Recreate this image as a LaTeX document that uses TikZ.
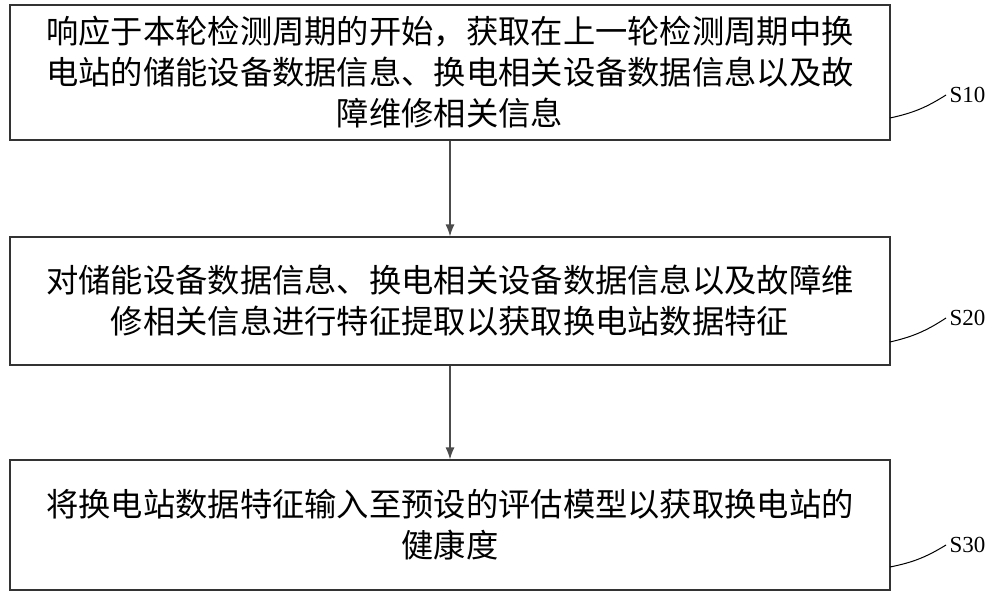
\documentclass[tikz,border=0pt]{standalone}
\usepackage{fontspec}
\usetikzlibrary{arrows.meta}
\newfontfamily\cjk{Noto Sans CJK SC}
\setmainfont{Liberation Serif}
\begin{document}
\begin{tikzpicture}[x=1pt,y=-1pt,
  stepbox/.style={draw=black!80,line width=1.2pt,minimum width=880pt,text width=870pt,align=center,font=\cjk\fontsize{32.3}{41}\selectfont},
  lbl/.style={font=\fontsize{23}{26}\selectfont,anchor=west},
  arr/.style={draw=black!70,line width=1.2pt,-{Latex[length=12pt,width=9pt]}}]
\useasboundingbox (0,0) rectangle (1000,603);
\node[stepbox,minimum height=135pt] (b1) at (450,72.5) {响应于本轮检测周期的开始，获取在上一轮检测周期中换\\电站的储能设备数据信息、换电相关设备数据信息以及故\\障维修相关信息};
\node[stepbox,minimum height=128pt] (b2) at (450,301) {对储能设备数据信息、换电相关设备数据信息以及故障维\\修相关信息进行特征提取以获取换电站数据特征};
\node[stepbox,minimum height=130pt] (b3) at (450,525) {将换电站数据特征输入至预设的评估模型以获取换电站的\\健康度};
\draw[arr] (b1.south) -- (b2.north);
\draw[arr] (b2.south) -- (b3.north);
\node[lbl] (s1) at (946,95) {S10};
\node[lbl] (s2) at (946,318) {S20};
\node[lbl] (s3) at (946,545) {S30};
\coordinate (c1) at (890,118);
\coordinate (c2) at (890,342);
\coordinate (c3) at (890,567);
\draw[line width=1pt] (c1) to[bend right=10] (s1.west);
\draw[line width=1pt] (c2) to[bend right=10] (s2.west);
\draw[line width=1pt] (c3) to[bend right=10] (s3.west);
\end{tikzpicture}
\end{document}
